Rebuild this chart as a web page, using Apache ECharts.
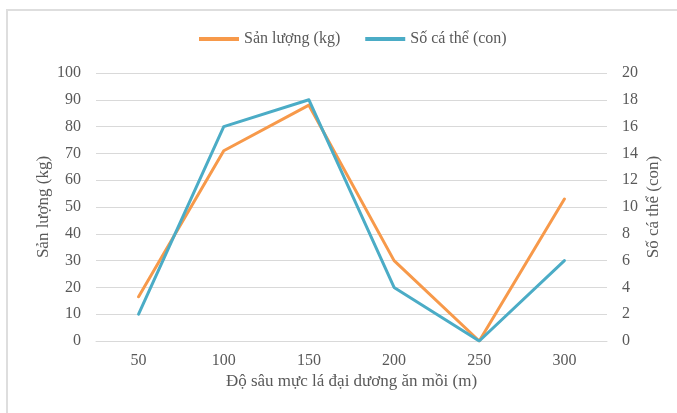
<!DOCTYPE html>
<html>
<head>
<meta charset="utf-8">
<script src="https://cdn.jsdelivr.net/npm/echarts@6/dist/echarts.min.js"></script>
<style>
  html, body { margin: 0; padding: 0; background: #fff; }
  #chart { width: 677px; height: 413px; }
</style>
</head>
<body>
<div id="chart"></div>
<script>
// Depth at which the squid feeds (m)
const depths = ['50', '100', '150', '200', '250', '300'];
// Catch yield (kg), left axis
const yieldKg = [16.5, 71, 88, 30, 0, 53];
// Number of individuals, right axis
const individuals = [2, 16, 18, 4, 0, 6];

const FONT = '"Liberation Serif", "DejaVu Serif", serif';
const TEXT = '#595959';
const GRID = '#d9d9d9';

const chart = echarts.init(document.getElementById('chart'), null, { renderer: 'canvas' });
chart.setOption({
  animation: false,
  backgroundColor: '#fff',
  textStyle: { fontFamily: FONT, color: TEXT },
  graphic: [{
    type: 'rect',
    shape: { x: 7, y: 10, width: 700, height: 430 },
    style: { fill: 'none', stroke: '#dedede', lineWidth: 2 },
    silent: true
  }],
  legend: {
    top: 26,
    left: 194,
    itemWidth: 40,
    itemHeight: 4,
    itemGap: 25,
    icon: 'rect',
    textStyle: { fontFamily: FONT, fontSize: 16, color: TEXT },
    data: ['Sản lượng (kg)', 'Số cá thể (con)']
  },
  grid: { left: 96, right: 70, top: 73, bottom: 72 },
  xAxis: {
    type: 'category',
    data: depths,
    boundaryGap: true,
    axisLine: { show: true, lineStyle: { color: GRID, width: 1 } },
    axisTick: { show: false },
    axisLabel: { fontFamily: FONT, fontSize: 16, color: TEXT, margin: 12 },
    name: 'Độ sâu mực lá đại dương ăn mồi (m)',
    nameLocation: 'middle',
    nameGap: 32,
    nameMoveOverlap: false,
    nameTextStyle: { fontFamily: FONT, fontSize: 17, color: TEXT }
  },
  yAxis: [{
    type: 'value',
    min: 0, max: 100, interval: 10,
    axisLine: { show: false },
    axisTick: { show: false },
    splitLine: { lineStyle: { color: GRID, width: 1 } },
    axisLabel: { fontFamily: FONT, fontSize: 16, color: TEXT, margin: 15 },
    name: 'Sản lượng (kg)',
    nameLocation: 'middle',
    nameGap: 44,
    nameRotate: 90,
    nameMoveOverlap: false,
    nameTextStyle: { fontFamily: FONT, fontSize: 17, color: TEXT }
  }, {
    type: 'value',
    min: 0, max: 20, interval: 2,
    position: 'right',
    axisLine: { show: false },
    axisTick: { show: false },
    splitLine: { show: false },
    axisLabel: { fontFamily: FONT, fontSize: 16, color: TEXT, margin: 15 },
    name: 'Số cá thể (con)',
    nameLocation: 'middle',
    nameGap: 38,
    nameRotate: 90,
    nameMoveOverlap: false,
    nameTextStyle: { fontFamily: FONT, fontSize: 17, color: TEXT }
  }],
  series: [{
    name: 'Sản lượng (kg)',
    type: 'line',
    yAxisIndex: 0,
    data: yieldKg,
    symbol: 'none',
    color: '#F7994A',
    lineStyle: { width: 3, color: '#F7994A', cap: 'round', join: 'round' }
  }, {
    name: 'Số cá thể (con)',
    type: 'line',
    yAxisIndex: 1,
    data: individuals,
    symbol: 'none',
    color: '#4BACC6',
    lineStyle: { width: 3, color: '#4BACC6', cap: 'round', join: 'round' }
  }]
});
</script>
</body>
</html>
